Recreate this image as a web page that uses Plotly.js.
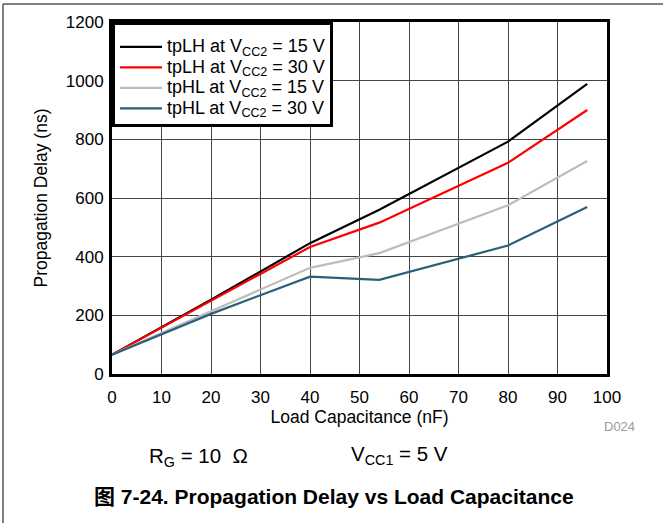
<!DOCTYPE html>
<html>
<head>
<meta charset="utf-8">
<script src="https://cdn.plot.ly/plotly-3.0.1.min.js"></script>
<style>html,body{margin:0;padding:0;background:#fff;}#chart{width:663px;height:523px;}</style>
</head>
<body>
<div id="chart"></div>
<script>
var loadCap = [0, 20, 40, 54, 80, 96];
var tpLH15 = [66, 253, 446, 560, 792, 989];
var tpLH30 = [66, 250, 433, 516, 720, 900];
var tpHL15 = [66, 214, 362, 412, 575, 726];
var tpHL30 = [66, 205, 332, 321, 438, 569];
var seriesNames = [
  'tpLH at V<sub>CC2</sub> = 15 V',
  'tpLH at V<sub>CC2</sub> = 30 V',
  'tpHL at V<sub>CC2</sub> = 15 V',
  'tpHL at V<sub>CC2</sub> = 30 V'
];
var seriesColors = ['#000000', '#ff0000', '#bdbdbd', '#2e5f78'];
var xTicks = [0,10,20,30,40,50,60,70,80,90,100];
var yTicks = [0,200,400,600,800,1000,1200];

var ys = [tpLH15, tpLH30, tpHL15, tpHL30];
var traces = ys.map(function(y, i){
  return {x: loadCap, y: y, mode: 'lines',
    name: '<span style="font-size:18px">' + seriesNames[i] + '</span>',
    line: {color: seriesColors[i], width: 2.2}};
});

var font = 'Liberation Sans, Arial, sans-serif';
var layout = {
  width: 663, height: 523,
  margin: {l: 112, r: 56, t: 22, b: 149},
  paper_bgcolor: '#fff', plot_bgcolor: '#fff',
  font: {family: font, size: 17, color: '#000'},
  showlegend: true,
  legend: {x: 0, y: 1, xanchor: 'left', yanchor: 'top', bgcolor: '#fff',
    bordercolor: '#000', borderwidth: 3, font: {size: 13.5, family: font},
    tracegroupgap: 0, itemwidth: 42,
    title: {text: '&nbsp;', font: {size: 5}}},
  xaxis: {range: [0, 100], tickvals: xTicks, ticks: '', showgrid: true,
    gridcolor: '#444', gridwidth: 1, zeroline: false, showline: true, linecolor: '#000',
    linewidth: 3, mirror: true, tickfont: {size: 17}, ticklabelstandoff: 6,
    title: {text: 'Load Capacitance (nF)', font: {size: 17.5}, standoff: 2}},
  yaxis: {range: [0, 1200], tickvals: yTicks, ticks: '', showgrid: true,
    gridcolor: '#444', gridwidth: 1, zeroline: false, showline: true, linecolor: '#000',
    linewidth: 3, mirror: true, tickfont: {size: 17}, ticklabelstandoff: 2,
    title: {text: 'Propagation Delay (ns)', font: {size: 17.5}, standoff: 14}},
  shapes: [
    {type: 'line', xref: 'paper', yref: 'paper', x0: -0.2202, x1: 1.12, y0: 1.0511, y1: 1.0511,
      line: {color: '#555', width: 1.5}},
    {type: 'line', xref: 'paper', yref: 'paper', x0: -0.2202, x1: -0.2202, y0: 1.0511, y1: -0.45,
      line: {color: '#555', width: 1.5}}
  ],
  annotations: [
    {xref: 'paper', yref: 'paper', x: (619-112)/495, y: (374-426)/352, xanchor: 'center', yanchor: 'middle',
      text: 'D024', showarrow: false, font: {size: 13, color: '#999', family: font}},
    {xref: 'paper', yref: 'paper', x: (147-112)/495, y: (374-457)/352, xanchor: 'left', yanchor: 'middle',
      text: 'R<sub>G</sub> = 10  Ω', showarrow: false, font: {size: 20.5, family: font}},
    {xref: 'paper', yref: 'paper', x: (349-112)/495, y: (374-455)/352, xanchor: 'left', yanchor: 'middle',
      text: 'V<sub>CC1</sub> = 5 V', showarrow: false, font: {size: 20.5, family: font}},
    {xref: 'paper', yref: 'paper', x: (334-112)/495, y: (374-496)/352, xanchor: 'center', yanchor: 'middle',
      text: '<b>图 7-24. Propagation Delay vs Load Capacitance</b>', showarrow: false,
      font: {size: 21, family: 'Liberation Sans, Arial, Noto Sans CJK SC, sans-serif'}}
  ]
};
Plotly.newPlot('chart', traces, layout, {displayModeBar: false, staticPlot: true});
</script>
</body>
</html>
